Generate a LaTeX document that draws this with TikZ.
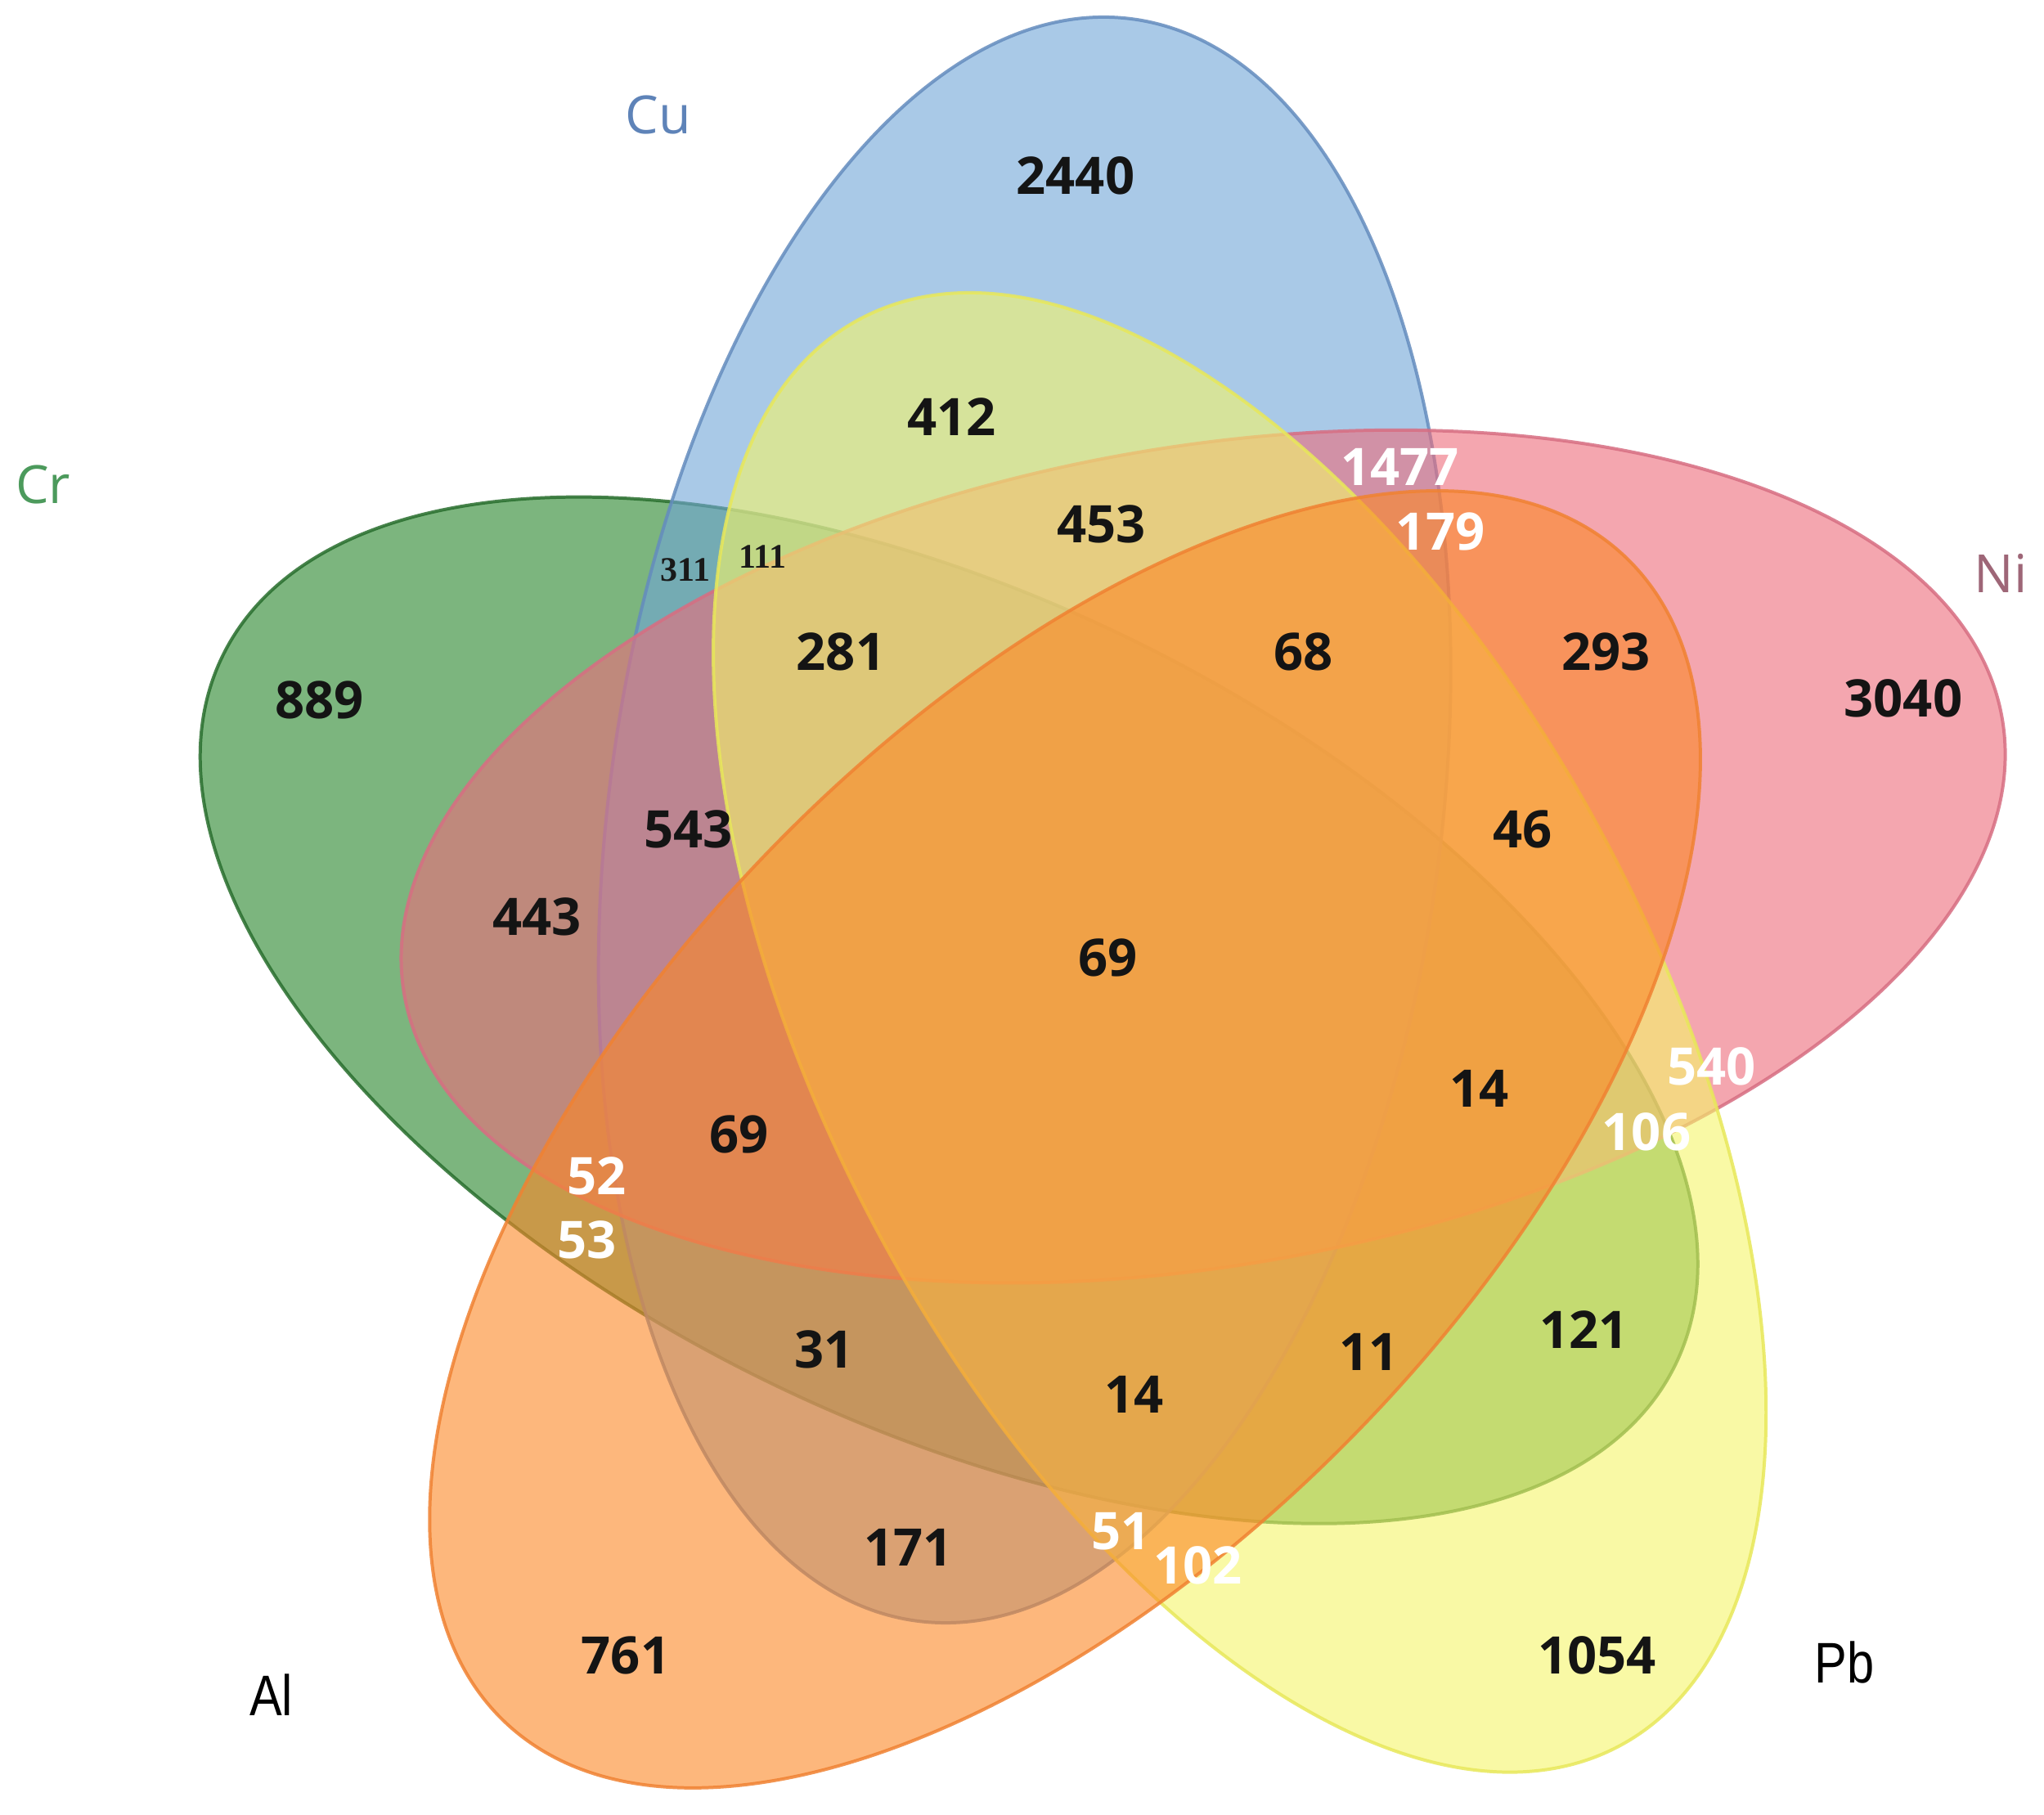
\documentclass[tikz,border=0pt]{standalone}
\usepackage{fontspec}
\setmainfont{Open Sans}
\newfontfamily\smallserif{Liberation Serif}
\newfontfamily\narrowsans[FakeStretch=0.85]{Liberation Sans}
\definecolor{crF}{RGB}{38,133,40}
\definecolor{crD}{RGB}{40,110,45}
\definecolor{cuF}{RGB}{112,165,215}
\definecolor{cuD}{RGB}{100,140,190}
\definecolor{niF}{RGB}{237,108,123}
\definecolor{niD}{RGB}{215,110,130}
\definecolor{pbF}{RGB}{245,245,105}
\definecolor{pbD}{RGB}{232,232,90}
\definecolor{alF}{RGB}{252,135,38}
\definecolor{alD}{RGB}{240,130,50}
\definecolor{cuT}{RGB}{94,131,184}
\definecolor{crT}{RGB}{76,154,92}
\definecolor{niT}{RGB}{158,102,119}
\begin{document}
\begin{tikzpicture}[x=0.1mm,y=-0.1mm,
  setshape/.style={fill opacity=0.6, draw opacity=0.85, line width=0.25mm},
  cnt/.style={font=\fontsize{11.3}{13}\selectfont\bfseries, text=black!92, inner sep=0},
  wcnt/.style={cnt, text=white},
  smallcnt/.style={font=\smallserif\fontsize{7.5}{9}\selectfont\bfseries, text=black!90, inner sep=0},
  setlab/.style={font=\fontsize{11.5}{13}\selectfont, inner sep=0},
  narrowlab/.style={font=\narrowsans\fontsize{12.5}{14}\selectfont, text=black, inner sep=0}]
\useasboundingbox (0,0) rectangle (1568,1392);
\fill[white] (0,0) rectangle (1568,1392);
% ellipses
\draw[setshape, fill=crF, draw=crD, shift={(728,775)}, rotate=154] (0,0) ellipse [x radius=620, y radius=317];
\draw[setshape, fill=cuF, draw=cuD, shift={(786,629)}, rotate=82.3] (0,0) ellipse [x radius=620, y radius=319];
\draw[setshape, fill=niF, draw=niD, shift={(923,657)}, rotate=9.8] (0,0) ellipse [x radius=622, y radius=314];
\draw[setshape, fill=pbF, draw=pbD, shift={(951,792)}, rotate=-62] (0,0) ellipse [x radius=620, y radius=317];
\draw[setshape, fill=alF, draw=alD, shift={(817,874)}, rotate=-134] (0,0) ellipse [x radius=620, y radius=317];
% set labels
\node[setlab, text=cuT] (lCu) at (505,88) {Cu};
\node[setlab, text=crT] (lCr) at (33,372) {Cr};
\node[setlab, text=niT] (lNi) at (1535,440) {Ni};
\node[narrowlab] (lAl) at (208,1300) {Al};
\node[narrowlab] (lPb) at (1415,1275) {Pb};
% counts
\node[cnt] (n2440) at (825,135) {2440};
\node[cnt] (n412) at (730,320) {412};
\node[cnt] (n453) at (845,402) {453};
\node[wcnt] (n1477) at (1074,358) {1477};
\node[wcnt] (n179) at (1105,408) {179};
\node[smallcnt] (n311) at (526,437) {311};
\node[smallcnt] (n111) at (585,427) {111};
\node[cnt] (n281) at (645,500) {281};
\node[cnt] (n68) at (1000,500) {68};
\node[cnt] (n293) at (1232,500) {293};
\node[cnt] (n889) at (245,537) {889};
\node[cnt] (n3040) at (1460,536) {3040};
\node[cnt] (n543) at (528,636) {543};
\node[cnt] (n46) at (1168,636) {46};
\node[cnt] (n443) at (412,703) {443};
\node[cnt] (n69a) at (850,735) {69};
\node[cnt] (n14a) at (1135,835) {14};
\node[wcnt] (n540) at (1313,818) {540};
\node[cnt] (n69b) at (567,870) {69};
\node[wcnt] (n106) at (1263,868) {106};
\node[wcnt] (n52) at (458,902) {52};
\node[wcnt] (n53) at (450,951) {53};
\node[cnt] (n121) at (1215,1020) {121};
\node[cnt] (n31) at (632,1035) {31};
\node[cnt] (n11) at (1050,1037) {11};
\node[cnt] (n14b) at (870,1070) {14};
\node[cnt] (n171) at (697,1187) {171};
\node[wcnt] (n51) at (860,1175) {51};
\node[wcnt] (n102) at (919,1201) {102};
\node[cnt] (n761) at (480,1270) {761};
\node[cnt] (n1054) at (1225,1270) {1054};
\end{tikzpicture}
\end{document}
